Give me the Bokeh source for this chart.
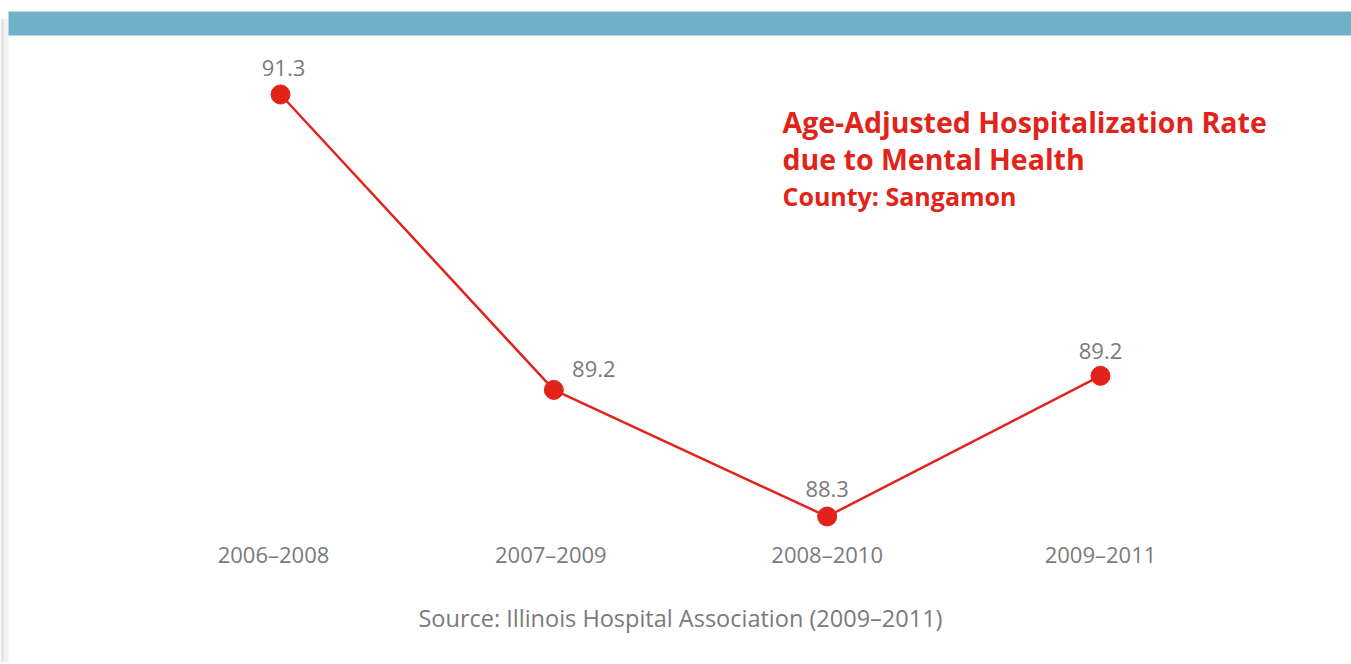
from bokeh.plotting import figure
from bokeh.models import Range1d, Label, BoxAnnotation, ColumnDataSource
from bokeh.embed import file_html
from bokeh.resources import INLINE
from bokeh.core.properties import value

# ---- data ----
periods = ["2006–2008", "2007–2009", "2008–2010", "2009–2011"]
rates = [91.3, 89.2, 88.3, 89.3]
rate_labels = ["91.3", "89.2", "88.3", "89.2"]
title_lines = ["Age-Adjusted Hospitalization Rate", "due to Mental Health"]
subtitle = "County: Sangamon"
source_note = "Source: Illinois Hospital Association (2009–2011)"

# ---- styling ----
RED = "#E2231A"
TEAL = "#70B1C9"
GREY = "#7a7a7a"
W, H = 1351, 662
PX_PER_X = 273.33
PX_PER_Y = 140.67
X0 = -280 / PX_PER_X
X1 = X0 + W / PX_PER_X
Y1 = 91.3 + 94 / PX_PER_Y
Y0 = Y1 - H / PX_PER_Y
TICK_SHIFT = [-7, -3, 0, 0]


def px_y(py):
    return Y1 - py / PX_PER_Y


def px_x(px):
    return X0 + px / PX_PER_X


p = figure(width=W, height=H, output_backend="svg", toolbar_location=None,
           x_range=Range1d(X0, X1), y_range=Range1d(Y0, Y1),
           min_border=0, min_border_left=0, min_border_right=0,
           min_border_top=0, min_border_bottom=0)
p.axis.visible = False
p.grid.visible = False
p.outline_line_color = None
p.background_fill_color = "white"
p.border_fill_color = "white"

# left page shadow
p.add_layout(BoxAnnotation(left=px_x(0), right=px_x(4), top=px_y(18), bottom=px_y(H),
                           fill_color="#e6e6e6", fill_alpha=1.0, line_color=None, level="underlay"))
p.add_layout(BoxAnnotation(left=px_x(4), right=px_x(8), top=px_y(18), bottom=px_y(H),
                           fill_color="#f1f1f1", fill_alpha=1.0, line_color=None, level="underlay"))
# top teal band
p.add_layout(BoxAnnotation(left=px_x(8), top=px_y(11), bottom=px_y(35),
                           fill_color=TEAL, fill_alpha=1.0, line_color=None, level="underlay"))

xs = list(range(len(periods)))
src = ColumnDataSource(dict(x=xs, y=rates, lab=rate_labels,
                            dx=[3, 40, 0, 0], dy=[-27, -21, -28, -25]))

p.line("x", "y", source=src, line_color=RED, line_width=2.5)
p.scatter("x", "y", source=src, size=19, fill_color=RED, line_color=RED)

p.text("x", "y", text="lab", source=src, x_offset="dx", y_offset="dy",
       text_align="center", text_baseline="middle", text_color=GREY,
       text_font=value("Open Sans"), text_font_size="22px")

for i, per in enumerate(periods):
    p.add_layout(Label(x=i, y=H - 553, y_units="screen", x_offset=TICK_SHIFT[i], text=per,
                       text_align="center", text_baseline="middle",
                       text_color=GREY, text_font="Open Sans", text_font_size="22px"))

p.add_layout(Label(x=680, y=H - 617, x_units="screen", y_units="screen",
                   text=source_note, text_align="center", text_baseline="middle",
                   text_color=GREY, text_font="Open Sans", text_font_size="23.5px"))

for j, line in enumerate(title_lines):
    p.add_layout(Label(x=782, y=H - (121 + 37 * j), x_units="screen", y_units="screen",
                       text=line, text_align="left", text_baseline="middle",
                       text_color=RED, text_font="Open Sans", text_font_style="bold",
                       text_font_size="28.5px"))
p.add_layout(Label(x=782, y=H - 195, x_units="screen", y_units="screen",
                   text=subtitle, text_align="left", text_baseline="middle",
                   text_color=RED, text_font="Open Sans", text_font_style="bold",
                   text_font_size="25px"))

open("out.html", "w").write(file_html(p, INLINE))
